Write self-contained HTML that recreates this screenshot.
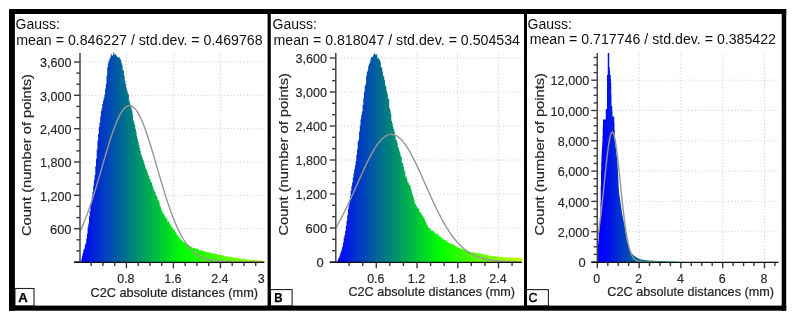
<!DOCTYPE html>
<html><head><meta charset="utf-8"><title>C2C absolute distances histograms</title>
<style>
html,body{margin:0;padding:0;background:#fff;}
body{width:795px;height:320px;overflow:hidden;}
svg{display:block;}
text{font-family:"Liberation Sans",Arial,sans-serif;fill:#262626;}
.yl{font-size:13.5px;stroke:#262626;stroke-width:0.15px;}
.xl{font-size:12.2px;stroke:#262626;stroke-width:0.15px;}
.ti{font-size:12.7px;stroke:#262626;stroke-width:0.22px;}
.ty{font-size:13px;stroke:#262626;stroke-width:0.2px;}
.hd{font-size:14px;fill:#111;}
.lt{font-size:12.6px;font-weight:bold;fill:#000;stroke:#000;stroke-width:0.25px;}
.lc{font-size:13.4px;font-weight:normal;stroke-width:0.45px;}
</style></head><body>
<svg width="795" height="320" viewBox="0 0 795 320">
<rect x="0" y="0" width="795" height="320" fill="#fff"/>

<defs><linearGradient id="g1" gradientUnits="userSpaceOnUse" x1="80.0" y1="0" x2="300.0" y2="0">
<stop offset="0.0000" stop-color="#0000ff"/>
<stop offset="0.2318" stop-color="#007f7f"/>
<stop offset="0.4636" stop-color="#00ff00"/>
<stop offset="1.0000" stop-color="#f0ff00"/>
</linearGradient></defs>
<g stroke="#c8c8c8" stroke-width="1" stroke-dasharray="1 2.3" fill="none">
<line x1="82.0" y1="62.0" x2="264.3" y2="62.0"/>
<line x1="82.0" y1="95.3" x2="264.3" y2="95.3"/>
<line x1="82.0" y1="128.7" x2="264.3" y2="128.7"/>
<line x1="82.0" y1="162.0" x2="264.3" y2="162.0"/>
<line x1="82.0" y1="195.3" x2="264.3" y2="195.3"/>
<line x1="82.0" y1="228.7" x2="264.3" y2="228.7"/>
<line x1="126.4" y1="54.0" x2="126.4" y2="261.0"/>
<line x1="173.4" y1="54.0" x2="173.4" y2="261.0"/>
<line x1="220.4" y1="54.0" x2="220.4" y2="261.0"/>
</g>
<path d="M80.6 262.0V262.0h0.7V258.7h0.7V255.6h0.7V252.8h0.7V249.7h0.7V248.6h0.7V245.1h0.7V243.3h0.7V238.7h0.7V233.7h0.7V227.3h0.7V223.4h0.7V216.6h0.7V211.0h0.7V205.1h0.7V202.0h0.7V196.6h0.7V191.8h0.7V185.8h0.7V179.7h0.7V174.9h0.7V166.3h0.7V158.8h0.7V149.5h0.7V140.6h0.7V134.1h0.7V127.1h0.7V122.4h0.7V116.6h0.7V111.1h0.7V108.2h0.7V104.0h0.7V100.7h0.7V98.1h0.7V94.6h0.7V88.8h0.7V83.7h0.7V75.4h0.7V67.3h0.7V63.2h0.7V60.9h0.7V59.1h0.7V57.4h0.7V53.8h0.7V55.3h0.7V55.7h0.7V54.5h0.7V52.0h0.7V54.5h0.7V54.1h0.7V54.7h0.7V55.9h0.7V57.3h0.7V56.9h0.7V57.4h0.7V57.5h0.7V58.6h0.7V60.1h0.7V62.8h0.7V64.7h0.7V69.8h0.7V71.0h0.7V75.8h0.7V80.8h0.7V83.9h0.7V88.3h0.7V90.4h0.7V93.0h0.7V94.5h0.7V100.5h0.7V103.1h0.7V105.0h0.7V107.6h0.7V110.4h0.7V114.6h0.7V120.6h0.7V122.6h0.7V125.0h0.7V128.9h0.7V131.7h0.7V136.0h0.7V139.3h0.7V142.1h0.7V145.0h0.7V148.2h0.7V151.1h0.7V154.4h0.7V156.0h0.7V158.6h0.7V160.0h0.7V161.9h0.7V164.7h0.7V167.0h0.7V169.1h0.7V170.1h0.7V172.2h0.7V174.4h0.7V176.0h0.7V178.4h0.7V179.2h0.7V182.0h0.7V182.6h0.7V185.1h0.7V186.9h0.7V189.9h0.7V190.7h0.7V192.0h0.7V194.7h0.7V195.8h0.7V197.2h0.7V199.9h0.7V200.6h0.7V202.5h0.7V205.9h0.7V207.3h0.7V210.3h0.7V211.1h0.7V213.5h0.7V213.2h0.7V214.8h0.7V216.2h0.7V217.8h0.7V217.7h0.7V218.4h0.7V221.7h0.7V221.1h0.7V221.9h0.7V223.7h0.7V225.5h0.7V225.5h0.7V227.0h0.7V228.2h0.7V229.5h0.7V229.7h0.7V230.6h0.7V232.3h0.7V232.8h0.7V234.6h0.7V234.8h0.7V236.2h0.7V237.3h0.7V238.2h0.7V238.6h0.7V239.4h0.7V240.2h0.7V240.9h0.7V241.6h0.7V241.9h0.7V242.6h0.7V243.0h0.7V243.8h0.7V245.1h0.7V244.3h0.7V244.3h0.7V245.3h0.7V245.9h0.7V246.2h0.7V246.6h0.7V246.9h0.7V247.6h0.7V247.7h0.7V248.1h0.7V248.0h0.7V248.5h0.7V248.5h0.7V249.0h0.7V248.8h0.7V249.3h0.7V249.0h0.7V250.4h0.7V250.3h0.7V250.0h0.7V249.8h0.7V250.8h0.7V250.9h0.7V251.2h0.7V250.9h0.7V251.5h0.7V251.5h0.7V251.9h0.7V252.3h0.7V252.1h0.7V252.2h0.7V252.2h0.7V252.7h0.7V253.0h0.7V252.8h0.7V253.1h0.7V253.2h0.7V253.5h0.7V253.3h0.7V253.7h0.7V253.5h0.7V253.8h0.7V254.1h0.7V254.8h0.7V254.4h0.7V254.6h0.7V254.7h0.7V254.7h0.7V255.2h0.7V255.1h0.7V255.5h0.7V255.1h0.7V256.0h0.7V256.2h0.7V256.3h0.7V256.3h0.7V256.4h0.7V255.9h0.7V256.5h0.7V256.9h0.7V256.5h0.7V257.0h0.7V257.2h0.7V256.9h0.7V257.1h0.7V257.4h0.7V257.2h0.7V257.5h0.7V257.4h0.7V257.7h0.7V257.6h0.7V258.0h0.7V258.3h0.7V257.8h0.7V258.4h0.7V258.5h0.7V258.6h0.7V258.7h0.7V258.7h0.7V258.8h0.7V258.8h0.7V258.7h0.7V259.1h0.7V259.3h0.7V259.4h0.7V259.4h0.7V259.6h0.7V259.4h0.7V259.6h0.7V259.7h0.7V259.7h0.7V259.9h0.7V259.9h0.7V259.8h0.7V259.9h0.7V260.1h0.7V259.9h0.7V260.3h0.7V260.2h0.7V260.3h0.7V260.6h0.7V260.2h0.7V260.4h0.7V260.6h0.7V260.3h0.7V260.5h0.7V260.6h0.7V260.7h0.7V260.7h0.7V260.9h0.7V260.7h0.7V262.0Z" fill="url(#g1)"/>
<path d="M80.0 231.1L81.0 229.1L82.0 226.9L83.0 224.6L84.0 222.3L85.0 219.9L86.0 217.3L87.0 214.7L88.0 212.0L89.0 209.2L90.0 206.3L91.0 203.4L92.0 200.4L93.0 197.3L94.0 194.1L95.0 190.9L96.0 187.6L97.0 184.3L98.0 180.9L99.0 177.5L100.0 174.1L101.0 170.7L102.0 167.2L103.0 163.8L104.0 160.3L105.0 156.9L106.0 153.5L107.0 150.2L108.0 146.9L109.0 143.6L110.0 140.4L111.0 137.3L112.0 134.3L113.0 131.4L114.0 128.6L115.0 125.9L116.0 123.4L117.0 121.0L118.0 118.7L119.0 116.6L120.0 114.7L121.0 112.9L122.0 111.3L123.0 109.9L124.0 108.7L125.0 107.7L126.0 106.9L127.0 106.3L128.0 105.8L129.0 105.6L130.0 105.6L131.0 105.8L132.0 106.3L133.0 106.9L134.0 107.7L135.0 108.7L136.0 109.9L137.0 111.3L138.0 112.9L139.0 114.7L140.0 116.6L141.0 118.7L142.0 121.0L143.0 123.4L144.0 125.9L145.0 128.6L146.0 131.4L147.0 134.3L148.0 137.3L149.0 140.4L150.0 143.6L151.0 146.8L152.0 150.1L153.0 153.5L154.0 156.9L155.0 160.3L156.0 163.7L157.0 167.2L158.0 170.6L159.0 174.1L160.0 177.5L161.0 180.9L162.0 184.3L163.0 187.6L164.0 190.9L165.0 194.1L166.0 197.2L167.0 200.3L168.0 203.4L169.0 206.3L170.0 209.2L171.0 212.0L172.0 214.7L173.0 217.3L174.0 219.8L175.0 222.3L176.0 224.6L177.0 226.9L178.0 229.0L179.0 231.1L180.0 233.1L181.0 235.0L182.0 236.8L183.0 238.5L184.0 240.1L185.0 241.6L186.0 243.1L187.0 244.5L188.0 245.8L189.0 247.0L190.0 248.1L191.0 249.2L192.0 250.2L193.0 251.2L194.0 252.0L195.0 252.9L196.0 253.6L197.0 254.3L198.0 255.0L199.0 255.6L200.0 256.2L201.0 256.7L202.0 257.2L203.0 257.6L204.0 258.0L205.0 258.4L206.0 258.8L207.0 259.1L208.0 259.4L209.0 259.6L210.0 259.9L211.0 260.1L212.0 260.3L213.0 260.5L214.0 260.6L215.0 260.8L216.0 260.9L217.0 261.0L218.0 261.1L219.0 261.2L220.0 261.3L221.0 261.4L222.0 261.5L223.0 261.5L224.0 261.6L225.0 261.6L226.0 261.7L227.0 261.7L228.0 261.7L229.0 261.8L230.0 261.8L231.0 261.8L232.0 261.9L233.0 261.9L234.0 261.9L235.0 261.9L236.0 261.9L237.0 261.9L238.0 261.9L239.0 261.9L240.0 262.0L241.0 262.0L242.0 262.0L243.0 262.0L244.0 262.0L245.0 262.0L246.0 262.0L247.0 262.0L248.0 262.0L249.0 262.0L250.0 262.0L251.0 262.0L252.0 262.0L253.0 262.0L254.0 262.0L255.0 262.0L256.0 262.0L257.0 262.0L258.0 262.0L259.0 262.0L260.0 262.0L261.0 262.0L262.0 262.0L263.0 262.0L264.0 262.0" fill="none" stroke="#969696" stroke-width="1.4"/>
<g stroke="#3a3a3a" stroke-width="1.4" fill="none">
<line x1="74.0" y1="62.0" x2="80.0" y2="62.0"/>
<line x1="74.0" y1="95.3" x2="80.0" y2="95.3"/>
<line x1="74.0" y1="128.7" x2="80.0" y2="128.7"/>
<line x1="74.0" y1="162.0" x2="80.0" y2="162.0"/>
<line x1="74.0" y1="195.3" x2="80.0" y2="195.3"/>
<line x1="74.0" y1="228.7" x2="80.0" y2="228.7"/>
<line x1="74.0" y1="262.0" x2="80.0" y2="262.0"/>
<line x1="76.4" y1="250.9" x2="80.0" y2="250.9"/>
<line x1="76.4" y1="239.8" x2="80.0" y2="239.8"/>
<line x1="76.4" y1="217.6" x2="80.0" y2="217.6"/>
<line x1="76.4" y1="206.4" x2="80.0" y2="206.4"/>
<line x1="76.4" y1="184.2" x2="80.0" y2="184.2"/>
<line x1="76.4" y1="173.1" x2="80.0" y2="173.1"/>
<line x1="76.4" y1="150.9" x2="80.0" y2="150.9"/>
<line x1="76.4" y1="139.8" x2="80.0" y2="139.8"/>
<line x1="76.4" y1="117.6" x2="80.0" y2="117.6"/>
<line x1="76.4" y1="106.4" x2="80.0" y2="106.4"/>
<line x1="76.4" y1="84.2" x2="80.0" y2="84.2"/>
<line x1="76.4" y1="73.1" x2="80.0" y2="73.1"/>
<line x1="126.4" y1="262.0" x2="126.4" y2="268.3"/>
<line x1="173.4" y1="262.0" x2="173.4" y2="268.3"/>
<line x1="220.4" y1="262.0" x2="220.4" y2="268.3"/>
<line x1="91.2" y1="262.0" x2="91.2" y2="266.1"/>
<line x1="102.9" y1="262.0" x2="102.9" y2="266.1"/>
<line x1="114.7" y1="262.0" x2="114.7" y2="266.1"/>
<line x1="138.2" y1="262.0" x2="138.2" y2="266.1"/>
<line x1="149.9" y1="262.0" x2="149.9" y2="266.1"/>
<line x1="161.7" y1="262.0" x2="161.7" y2="266.1"/>
<line x1="185.2" y1="262.0" x2="185.2" y2="266.1"/>
<line x1="196.9" y1="262.0" x2="196.9" y2="266.1"/>
<line x1="208.7" y1="262.0" x2="208.7" y2="266.1"/>
<line x1="232.2" y1="262.0" x2="232.2" y2="266.1"/>
<line x1="243.9" y1="262.0" x2="243.9" y2="266.1"/>
<line x1="255.7" y1="262.0" x2="255.7" y2="266.1"/>
</g>
<line x1="80.0" y1="53.0" x2="80.0" y2="262.6" stroke="#444" stroke-width="1.5"/>
<line x1="74.0" y1="262.4" x2="264.3" y2="262.4" stroke="#111" stroke-width="1.3"/>
<g class="tk">
<text class="yl" x="71.5" y="67.2" text-anchor="end" textLength="31.5" lengthAdjust="spacingAndGlyphs">3,600</text>
<text class="yl" x="71.5" y="100.5" text-anchor="end" textLength="31.5" lengthAdjust="spacingAndGlyphs">3,000</text>
<text class="yl" x="71.5" y="133.8" text-anchor="end" textLength="31.5" lengthAdjust="spacingAndGlyphs">2,400</text>
<text class="yl" x="71.5" y="167.2" text-anchor="end" textLength="31.5" lengthAdjust="spacingAndGlyphs">1,800</text>
<text class="yl" x="71.5" y="200.5" text-anchor="end" textLength="31.5" lengthAdjust="spacingAndGlyphs">1,200</text>
<text class="yl" x="71.5" y="233.8" text-anchor="end" textLength="21.5" lengthAdjust="spacingAndGlyphs">600</text>
<text class="xl" x="125.9" y="282.9" text-anchor="middle" textLength="17.3" lengthAdjust="spacingAndGlyphs">0.8</text>
<text class="xl" x="172.9" y="282.9" text-anchor="middle" textLength="17.3" lengthAdjust="spacingAndGlyphs">1.6</text>
<text class="xl" x="219.9" y="282.9" text-anchor="middle" textLength="17.3" lengthAdjust="spacingAndGlyphs">2.4</text>
<text class="xl" x="261.2" y="282.9" text-anchor="middle" textLength="6.9" lengthAdjust="spacingAndGlyphs">3</text>
</g>
<text class="ti" x="90.6" y="296.5" textLength="167.4" lengthAdjust="spacingAndGlyphs">C2C absolute distances (mm)</text>
<text class="ty" transform="translate(31.2 236.0) rotate(-90)" textLength="162.0" lengthAdjust="spacingAndGlyphs">Count (number of points)</text>
<text class="hd" x="15.5" y="28.7">Gauss:</text>
<text class="hd" x="16.3" y="45.0" textLength="246.3" lengthAdjust="spacingAndGlyphs">mean = 0.846227 / std.dev. = 0.469768</text>
<rect x="15.0" y="288.5" width="19.0" height="17.5" fill="#fff" stroke="#222" stroke-width="1.1"/>
<text class="lt" x="23.1" y="301.9" text-anchor="middle" textLength="9.6" lengthAdjust="spacingAndGlyphs">A</text>
<defs><linearGradient id="g2" gradientUnits="userSpaceOnUse" x1="336.0" y1="0" x2="545.0" y2="0">
<stop offset="0.0000" stop-color="#0000ff"/>
<stop offset="0.2488" stop-color="#007f7f"/>
<stop offset="0.4976" stop-color="#00ff00"/>
<stop offset="1.0000" stop-color="#ffff00"/>
</linearGradient></defs>
<g stroke="#c8c8c8" stroke-width="1" stroke-dasharray="1 2.3" fill="none">
<line x1="337.8" y1="58.0" x2="521.8" y2="58.0"/>
<line x1="337.8" y1="92.0" x2="521.8" y2="92.0"/>
<line x1="337.8" y1="126.0" x2="521.8" y2="126.0"/>
<line x1="337.8" y1="160.0" x2="521.8" y2="160.0"/>
<line x1="337.8" y1="194.0" x2="521.8" y2="194.0"/>
<line x1="337.8" y1="228.0" x2="521.8" y2="228.0"/>
<line x1="337.8" y1="262.0" x2="521.8" y2="262.0"/>
<line x1="376.3" y1="54.0" x2="376.3" y2="261.0"/>
<line x1="417.0" y1="54.0" x2="417.0" y2="261.0"/>
<line x1="457.8" y1="54.0" x2="457.8" y2="261.0"/>
<line x1="498.5" y1="54.0" x2="498.5" y2="261.0"/>
</g>
<path d="M336.0 262.0V262.0h0.7V261.3h0.7V260.5h0.7V258.6h0.7V257.5h0.7V255.4h0.7V253.0h0.7V251.2h0.7V248.7h0.7V246.2h0.7V242.5h0.7V238.1h0.7V234.9h0.7V231.1h0.7V225.7h0.7V221.1h0.7V215.3h0.7V209.3h0.7V205.5h0.7V200.1h0.7V195.9h0.7V190.8h0.7V186.0h0.7V182.6h0.7V177.7h0.7V173.3h0.7V169.3h0.7V165.5h0.7V161.2h0.7V155.0h0.7V149.6h0.7V141.4h0.7V139.9h0.7V131.6h0.7V125.6h0.7V119.3h0.7V115.1h0.7V111.4h0.7V105.1h0.7V98.4h0.7V92.1h0.7V86.0h0.7V84.3h0.7V75.8h0.7V72.1h0.7V70.5h0.7V66.1h0.7V64.0h0.7V62.6h0.7V59.6h0.7V57.1h0.7V57.6h0.7V56.5h0.7V55.3h0.7V54.0h0.7V52.7h0.7V55.1h0.7V54.1h0.7V55.2h0.7V58.6h0.7V57.9h0.7V58.7h0.7V60.1h0.7V61.8h0.7V67.1h0.7V67.4h0.7V71.4h0.7V75.6h0.7V76.7h0.7V80.0h0.7V85.0h0.7V86.7h0.7V91.3h0.7V93.9h0.7V98.2h0.7V98.9h0.7V108.1h0.7V110.0h0.7V113.7h0.7V120.9h0.7V123.1h0.7V126.6h0.7V128.9h0.7V131.6h0.7V136.0h0.7V139.7h0.7V139.7h0.7V142.4h0.7V146.4h0.7V148.1h0.7V150.5h0.7V152.8h0.7V155.7h0.7V157.2h0.7V162.7h0.7V163.1h0.7V166.5h0.7V169.8h0.7V171.5h0.7V176.9h0.7V176.3h0.7V179.0h0.7V182.0h0.7V182.6h0.7V184.9h0.7V184.5h0.7V186.8h0.7V189.7h0.7V192.4h0.7V194.4h0.7V196.6h0.7V199.5h0.7V202.2h0.7V203.9h0.7V205.2h0.7V206.6h0.7V207.9h0.7V209.1h0.7V208.1h0.7V211.8h0.7V212.7h0.7V213.0h0.7V214.7h0.7V215.4h0.7V216.4h0.7V217.4h0.7V218.9h0.7V221.2h0.7V221.4h0.7V224.4h0.7V225.1h0.7V226.7h0.7V228.1h0.7V228.1h0.7V229.2h0.7V229.2h0.7V230.9h0.7V230.3h0.7V230.9h0.7V231.5h0.7V232.7h0.7V232.7h0.7V233.8h0.7V234.7h0.7V232.9h0.7V234.5h0.7V234.8h0.7V236.3h0.7V236.4h0.7V236.9h0.7V237.5h0.7V238.2h0.7V238.8h0.7V240.1h0.7V239.4h0.7V240.0h0.7V240.2h0.7V241.2h0.7V240.8h0.7V242.1h0.7V242.8h0.7V242.4h0.7V243.3h0.7V244.0h0.7V243.9h0.7V244.0h0.7V244.6h0.7V244.9h0.7V244.0h0.7V245.5h0.7V245.6h0.7V247.1h0.7V246.6h0.7V246.8h0.7V247.5h0.7V248.0h0.7V247.8h0.7V248.4h0.7V248.7h0.7V248.5h0.7V248.7h0.7V249.3h0.7V249.8h0.7V249.8h0.7V249.9h0.7V250.3h0.7V251.1h0.7V251.0h0.7V251.0h0.7V251.2h0.7V251.3h0.7V251.5h0.7V252.2h0.7V252.2h0.7V252.5h0.7V251.8h0.7V252.4h0.7V252.4h0.7V252.4h0.7V252.9h0.7V253.2h0.7V253.1h0.7V253.2h0.7V252.9h0.7V253.2h0.7V253.8h0.7V253.5h0.7V253.6h0.7V254.2h0.7V254.1h0.7V254.7h0.7V254.3h0.7V254.6h0.7V255.0h0.7V255.1h0.7V255.0h0.7V255.3h0.7V255.3h0.7V255.4h0.7V255.8h0.7V255.8h0.7V255.3h0.7V255.9h0.7V256.2h0.7V256.1h0.7V256.4h0.7V256.0h0.7V256.2h0.7V256.2h0.7V256.3h0.7V256.4h0.7V256.4h0.7V256.6h0.7V256.9h0.7V257.0h0.7V256.9h0.7V257.4h0.7V256.6h0.7V257.3h0.7V257.1h0.7V257.4h0.7V257.5h0.7V257.2h0.7V257.3h0.7V257.3h0.7V257.3h0.7V257.5h0.7V257.4h0.7V257.4h0.7V257.6h0.7V257.6h0.7V257.5h0.7V257.6h0.7V257.6h0.7V258.1h0.7V257.7h0.7V257.7h0.7V257.8h0.7V257.8h0.7V257.5h0.7V257.9h0.7V257.8h0.7V258.1h0.7V258.1h0.7V258.1h0.7V258.2h0.7V262.0Z" fill="url(#g2)"/>
<path d="M336.0 227.4L337.0 225.7L338.0 224.0L339.0 222.3L340.0 220.5L341.0 218.6L342.0 216.7L343.0 214.8L344.0 212.8L345.0 210.8L346.0 208.8L347.0 206.7L348.0 204.6L349.0 202.5L350.0 200.3L351.0 198.1L352.0 195.9L353.0 193.7L354.0 191.5L355.0 189.2L356.0 187.0L357.0 184.7L358.0 182.4L359.0 180.2L360.0 177.9L361.0 175.7L362.0 173.5L363.0 171.2L364.0 169.1L365.0 166.9L366.0 164.8L367.0 162.7L368.0 160.7L369.0 158.7L370.0 156.8L371.0 154.9L372.0 153.1L373.0 151.3L374.0 149.6L375.0 148.0L376.0 146.4L377.0 145.0L378.0 143.6L379.0 142.3L380.0 141.1L381.0 139.9L382.0 138.9L383.0 138.0L384.0 137.2L385.0 136.5L386.0 135.8L387.0 135.3L388.0 134.9L389.0 134.6L390.0 134.4L391.0 134.3L392.0 134.4L393.0 134.5L394.0 134.7L395.0 135.1L396.0 135.5L397.0 136.1L398.0 136.8L399.0 137.6L400.0 138.4L401.0 139.4L402.0 140.5L403.0 141.6L404.0 142.9L405.0 144.2L406.0 145.6L407.0 147.1L408.0 148.7L409.0 150.4L410.0 152.1L411.0 153.9L412.0 155.8L413.0 157.7L414.0 159.6L415.0 161.6L416.0 163.7L417.0 165.8L418.0 167.9L419.0 170.1L420.0 172.3L421.0 174.5L422.0 176.7L423.0 179.0L424.0 181.2L425.0 183.5L426.0 185.8L427.0 188.0L428.0 190.3L429.0 192.5L430.0 194.8L431.0 197.0L432.0 199.2L433.0 201.3L434.0 203.5L435.0 205.6L436.0 207.7L437.0 209.8L438.0 211.8L439.0 213.8L440.0 215.7L441.0 217.6L442.0 219.5L443.0 221.3L444.0 223.1L445.0 224.8L446.0 226.5L447.0 228.1L448.0 229.7L449.0 231.3L450.0 232.8L451.0 234.2L452.0 235.6L453.0 237.0L454.0 238.2L455.0 239.5L456.0 240.7L457.0 241.9L458.0 243.0L459.0 244.0L460.0 245.0L461.0 246.0L462.0 246.9L463.0 247.8L464.0 248.7L465.0 249.5L466.0 250.3L467.0 251.0L468.0 251.7L469.0 252.3L470.0 253.0L471.0 253.6L472.0 254.1L473.0 254.6L474.0 255.1L475.0 255.6L476.0 256.1L477.0 256.5L478.0 256.9L479.0 257.2L480.0 257.6L481.0 257.9L482.0 258.2L483.0 258.5L484.0 258.8L485.0 259.0L486.0 259.2L487.0 259.5L488.0 259.7L489.0 259.8L490.0 260.0L491.0 260.2L492.0 260.3L493.0 260.5L494.0 260.6L495.0 260.7L496.0 260.8L497.0 260.9L498.0 261.0L499.0 261.1L500.0 261.2L501.0 261.3L502.0 261.3L503.0 261.4L504.0 261.4L505.0 261.5L506.0 261.5L507.0 261.6L508.0 261.6L509.0 261.7L510.0 261.7L511.0 261.7L512.0 261.7L513.0 261.8L514.0 261.8L515.0 261.8L516.0 261.8L517.0 261.9L518.0 261.9L519.0 261.9L520.0 261.9L521.0 261.9" fill="none" stroke="#969696" stroke-width="1.4"/>
<g stroke="#3a3a3a" stroke-width="1.4" fill="none">
<line x1="329.8" y1="58.0" x2="335.8" y2="58.0"/>
<line x1="329.8" y1="92.0" x2="335.8" y2="92.0"/>
<line x1="329.8" y1="126.0" x2="335.8" y2="126.0"/>
<line x1="329.8" y1="160.0" x2="335.8" y2="160.0"/>
<line x1="329.8" y1="194.0" x2="335.8" y2="194.0"/>
<line x1="329.8" y1="228.0" x2="335.8" y2="228.0"/>
<line x1="329.8" y1="262.0" x2="335.8" y2="262.0"/>
<line x1="332.2" y1="250.7" x2="335.8" y2="250.7"/>
<line x1="332.2" y1="239.3" x2="335.8" y2="239.3"/>
<line x1="332.2" y1="216.7" x2="335.8" y2="216.7"/>
<line x1="332.2" y1="205.3" x2="335.8" y2="205.3"/>
<line x1="332.2" y1="182.7" x2="335.8" y2="182.7"/>
<line x1="332.2" y1="171.3" x2="335.8" y2="171.3"/>
<line x1="332.2" y1="148.7" x2="335.8" y2="148.7"/>
<line x1="332.2" y1="137.3" x2="335.8" y2="137.3"/>
<line x1="332.2" y1="114.7" x2="335.8" y2="114.7"/>
<line x1="332.2" y1="103.3" x2="335.8" y2="103.3"/>
<line x1="332.2" y1="80.7" x2="335.8" y2="80.7"/>
<line x1="332.2" y1="69.3" x2="335.8" y2="69.3"/>
<line x1="376.3" y1="262.0" x2="376.3" y2="268.3"/>
<line x1="417.0" y1="262.0" x2="417.0" y2="268.3"/>
<line x1="457.8" y1="262.0" x2="457.8" y2="268.3"/>
<line x1="498.5" y1="262.0" x2="498.5" y2="268.3"/>
<line x1="349.1" y1="262.0" x2="349.1" y2="266.1"/>
<line x1="362.7" y1="262.0" x2="362.7" y2="266.1"/>
<line x1="389.8" y1="262.0" x2="389.8" y2="266.1"/>
<line x1="403.4" y1="262.0" x2="403.4" y2="266.1"/>
<line x1="430.6" y1="262.0" x2="430.6" y2="266.1"/>
<line x1="444.2" y1="262.0" x2="444.2" y2="266.1"/>
<line x1="471.3" y1="262.0" x2="471.3" y2="266.1"/>
<line x1="484.9" y1="262.0" x2="484.9" y2="266.1"/>
<line x1="512.1" y1="262.0" x2="512.1" y2="266.1"/>
</g>
<line x1="335.8" y1="53.0" x2="335.8" y2="262.6" stroke="#444" stroke-width="1.5"/>
<line x1="329.8" y1="262.4" x2="521.8" y2="262.4" stroke="#111" stroke-width="1.3"/>
<g class="tk">
<text class="yl" x="327.1" y="63.1" text-anchor="end" textLength="31.5" lengthAdjust="spacingAndGlyphs">3,600</text>
<text class="yl" x="327.1" y="97.2" text-anchor="end" textLength="31.5" lengthAdjust="spacingAndGlyphs">3,000</text>
<text class="yl" x="327.1" y="131.2" text-anchor="end" textLength="31.5" lengthAdjust="spacingAndGlyphs">2,400</text>
<text class="yl" x="327.1" y="165.2" text-anchor="end" textLength="31.5" lengthAdjust="spacingAndGlyphs">1,800</text>
<text class="yl" x="327.1" y="199.2" text-anchor="end" textLength="31.5" lengthAdjust="spacingAndGlyphs">1,200</text>
<text class="yl" x="327.1" y="233.2" text-anchor="end" textLength="21.5" lengthAdjust="spacingAndGlyphs">600</text>
<text class="yl" x="323.6" y="267.1" text-anchor="end" textLength="7.2" lengthAdjust="spacingAndGlyphs">0</text>
<text class="xl" x="375.8" y="282.9" text-anchor="middle" textLength="17.3" lengthAdjust="spacingAndGlyphs">0.6</text>
<text class="xl" x="416.5" y="282.9" text-anchor="middle" textLength="17.3" lengthAdjust="spacingAndGlyphs">1.2</text>
<text class="xl" x="457.3" y="282.9" text-anchor="middle" textLength="17.3" lengthAdjust="spacingAndGlyphs">1.8</text>
<text class="xl" x="498.0" y="282.9" text-anchor="middle" textLength="17.3" lengthAdjust="spacingAndGlyphs">2.4</text>
</g>
<text class="ti" x="348.4" y="296.4" textLength="166.6" lengthAdjust="spacingAndGlyphs">C2C absolute distances (mm)</text>
<text class="ty" transform="translate(288.2 235.6) rotate(-90)" textLength="162.5" lengthAdjust="spacingAndGlyphs">Count (number of points)</text>
<text class="hd" x="272.6" y="28.5">Gauss:</text>
<text class="hd" x="273.5" y="45.0" textLength="246.5" lengthAdjust="spacingAndGlyphs">mean = 0.818047 / std.dev. = 0.504534</text>
<rect x="270.5" y="289.6" width="21.6" height="16.4" fill="#fff" stroke="#222" stroke-width="1.1"/>
<text class="lt" x="278.5" y="301.9" text-anchor="middle" textLength="8.3" lengthAdjust="spacingAndGlyphs">B</text>
<defs><linearGradient id="g3" gradientUnits="userSpaceOnUse" x1="597.0" y1="0" x2="700.0" y2="0">
<stop offset="0.0000" stop-color="#0000ff"/>
<stop offset="0.0680" stop-color="#0004fb"/>
<stop offset="0.9029" stop-color="#00ff00"/>
<stop offset="1.0000" stop-color="#00ff00"/>
</linearGradient></defs>
<g stroke="#c8c8c8" stroke-width="1" stroke-dasharray="1 2.3" fill="none">
<line x1="599.3" y1="80.2" x2="778.4" y2="80.2"/>
<line x1="599.3" y1="110.5" x2="778.4" y2="110.5"/>
<line x1="599.3" y1="140.8" x2="778.4" y2="140.8"/>
<line x1="599.3" y1="171.1" x2="778.4" y2="171.1"/>
<line x1="599.3" y1="201.4" x2="778.4" y2="201.4"/>
<line x1="599.3" y1="231.7" x2="778.4" y2="231.7"/>
<line x1="599.3" y1="262.0" x2="778.4" y2="262.0"/>
<line x1="639.1" y1="54.0" x2="639.1" y2="261.0"/>
<line x1="680.9" y1="54.0" x2="680.9" y2="261.0"/>
<line x1="722.7" y1="54.0" x2="722.7" y2="261.0"/>
<line x1="764.5" y1="54.0" x2="764.5" y2="261.0"/>
</g>
<path d="M597.5 262.0V249.0h0.25V246.7h0.25V244.2h0.25V241.5h0.25V238.7h0.25V235.7h0.25V232.6h0.25V229.4h0.25V226.4h0.25V223.3h0.25V219.3h0.25V213.5h0.25V202.0h0.25V186.0h0.25V171.0h0.25V161.8h0.25V155.0h0.25V150.3h0.25V146.5h0.25V142.1h0.25V135.7h0.25V127.1h0.25V119.6h0.25V119.6h0.25V119.6h0.25V119.6h0.25V119.6h0.25V119.6h0.25V119.6h0.25V119.6h0.25V119.6h0.25V119.6h0.25V119.6h0.25V109.0h0.25V109.0h0.25V109.0h0.25V109.0h0.25V109.0h0.25V75.0h0.25V75.0h0.25V75.0h0.25V53.0h0.25V53.0h0.25V53.0h0.25V53.0h0.25V53.0h0.25V53.0h0.25V67.0h0.25V67.0h0.25V71.0h0.25V75.0h0.25V75.0h0.25V75.0h0.25V79.0h0.25V83.0h0.25V94.5h0.25V105.9h0.25V105.9h0.25V105.9h0.25V111.2h0.25V116.5h0.25V116.5h0.25V116.5h0.25V116.5h0.25V116.5h0.25V116.5h0.25V116.5h0.25V122.8h0.25V130.3h0.25V135.5h0.25V139.6h0.25V142.9h0.25V145.7h0.25V148.1h0.25V150.5h0.25V152.9h0.25V155.1h0.25V157.4h0.25V160.0h0.25V163.0h0.25V166.4h0.25V170.2h0.25V175.0h0.25V181.1h0.25V186.8h0.25V190.6h0.25V193.0h0.25V195.0h0.25V196.7h0.25V198.2h0.25V199.7h0.25V201.3h0.25V203.1h0.25V205.0h0.25V206.8h0.25V208.5h0.25V210.3h0.25V211.9h0.25V213.5h0.25V214.9h0.25V216.3h0.25V217.6h0.25V218.9h0.25V220.1h0.25V221.3h0.25V222.6h0.25V223.9h0.25V225.3h0.25V226.8h0.25V228.3h0.25V229.9h0.25V231.5h0.25V233.1h0.25V234.6h0.25V236.0h0.25V237.2h0.25V238.4h0.25V239.6h0.25V240.8h0.25V241.9h0.25V243.0h0.25V244.0h0.25V245.0h0.25V245.9h0.25V246.8h0.25V247.5h0.25V248.2h0.25V248.8h0.25V249.4h0.25V249.9h0.25V250.4h0.25V250.9h0.25V251.3h0.25V251.8h0.25V252.2h0.25V252.6h0.25V253.0h0.25V253.4h0.25V253.7h0.25V254.0h0.25V254.3h0.25V254.6h0.25V254.8h0.25V255.1h0.25V255.3h0.25V255.5h0.25V255.7h0.25V255.9h0.25V256.1h0.25V256.3h0.25V256.5h0.25V256.6h0.25V256.8h0.25V257.0h0.25V257.2h0.25V257.3h0.25V257.5h0.25V257.6h0.25V257.8h0.25V257.9h0.25V258.1h0.25V258.2h0.25V258.3h0.25V258.5h0.25V258.6h0.25V258.7h0.25V258.8h0.25V258.9h0.25V259.0h0.25V259.1h0.25V259.2h0.25V259.3h0.25V259.3h0.25V259.4h0.25V259.5h0.25V259.5h0.25V259.6h0.25V259.6h0.25V259.6h0.25V259.7h0.25V259.7h0.25V259.8h0.25V259.8h0.25V259.8h0.25V259.9h0.25V259.9h0.25V259.9h0.25V260.0h0.25V260.0h0.25V260.0h0.25V260.1h0.25V260.1h0.25V260.1h0.25V260.1h0.25V260.2h0.25V260.2h0.25V260.2h0.25V260.2h0.25V260.3h0.25V260.3h0.25V260.3h0.25V260.3h0.25V260.4h0.25V260.4h0.25V260.4h0.25V260.4h0.25V260.4h0.25V260.5h0.25V260.5h0.25V260.5h0.25V260.5h0.25V260.5h0.25V260.5h0.25V260.6h0.25V260.6h0.25V260.6h0.25V260.6h0.25V260.6h0.25V260.6h0.25V260.6h0.25V260.7h0.25V260.7h0.25V260.7h0.25V260.7h0.25V260.7h0.25V260.7h0.25V260.7h0.25V260.8h0.25V260.8h0.25V260.8h0.25V260.8h0.25V260.8h0.25V260.8h0.25V260.8h0.25V260.9h0.25V260.9h0.25V260.9h0.25V260.9h0.25V260.9h0.25V260.9h0.25V260.9h0.25V260.9h0.25V261.0h0.25V261.0h0.25V261.0h0.25V261.0h0.25V261.0h0.25V261.0h0.25V261.0h0.25V261.1h0.25V261.1h0.25V261.1h0.25V261.1h0.25V261.1h0.25V261.1h0.25V261.1h0.25V261.1h0.25V261.2h0.25V261.2h0.25V261.2h0.25V261.2h0.25V261.2h0.25V261.2h0.25V261.2h0.25V261.2h0.25V261.3h0.25V261.3h0.25V261.3h0.25V261.3h0.25V261.3h0.25V261.3h0.25V261.3h0.25V261.3h0.25V261.3h0.25V261.4h0.25V261.4h0.25V261.4h0.25V261.4h0.25V261.4h0.25V261.4h0.25V261.4h0.25V261.4h0.25V261.4h0.25V261.4h0.25V261.5h0.25V261.5h0.25V261.5h0.25V261.5h0.25V261.5h0.25V261.5h0.25V261.5h0.25V261.5h0.25V261.5h0.25V261.5h0.25V261.5h0.25V261.6h0.25V261.6h0.25V261.6h0.25V261.6h0.25V261.6h0.25V261.6h0.25V261.6h0.25V261.6h0.25V261.6h0.25V261.6h0.25V261.6h0.25V261.6h0.25V261.6h0.25V261.6h0.25V261.6h0.25V261.6h0.25V261.7h0.25V261.7h0.25V261.7h0.25V261.7h0.25V261.7h0.25V261.7h0.25V261.7h0.25V261.7h0.25V261.7h0.25V261.7h0.25V261.7h0.25V261.7h0.25V261.7h0.25V261.7h0.25V261.7h0.25V261.7h0.25V261.7h0.25V261.7h0.25V261.7h0.25V261.7h0.25V262.0Z" fill="url(#g3)"/>
<path d="M597.3 239.1L598.3 233.3L599.3 226.7L600.3 219.2L601.3 210.9L602.3 201.9L603.3 192.4L604.3 182.7L605.3 173.0L606.3 163.6L607.3 154.9L608.3 147.2L609.3 140.8L610.3 136.0L611.3 133.1L612.3 132.1L613.3 133.1L614.3 136.0L615.3 140.8L616.3 147.2L617.3 154.9L618.3 163.6L619.3 172.9L620.3 182.7L621.3 192.4L622.3 201.9L623.3 210.9L624.3 219.2L625.3 226.7L626.3 233.3L627.3 239.1L628.3 243.9L629.3 248.0L630.3 251.3L631.3 254.0L632.3 256.0L633.3 257.7L634.3 258.9L635.3 259.8L636.3 260.5L637.3 260.9L638.3 261.3L639.3 261.5L640.3 261.7L641.3 261.8L642.3 261.9L643.3 261.9L644.3 262.0L645.3 262.0L646.3 262.0L647.3 262.0L648.3 262.0L649.3 262.0L650.3 262.0L651.3 262.0L652.3 262.0L653.3 262.0L654.3 262.0L655.3 262.0L656.3 262.0L657.3 262.0L658.3 262.0L659.3 262.0" fill="none" stroke="#969696" stroke-width="1.4"/>
<g stroke="#3a3a3a" stroke-width="1.4" fill="none">
<line x1="591.3" y1="80.2" x2="597.3" y2="80.2"/>
<line x1="591.3" y1="110.5" x2="597.3" y2="110.5"/>
<line x1="591.3" y1="140.8" x2="597.3" y2="140.8"/>
<line x1="591.3" y1="171.1" x2="597.3" y2="171.1"/>
<line x1="591.3" y1="201.4" x2="597.3" y2="201.4"/>
<line x1="591.3" y1="231.7" x2="597.3" y2="231.7"/>
<line x1="591.3" y1="262.0" x2="597.3" y2="262.0"/>
<line x1="593.7" y1="254.4" x2="597.3" y2="254.4"/>
<line x1="593.7" y1="246.8" x2="597.3" y2="246.8"/>
<line x1="593.7" y1="239.3" x2="597.3" y2="239.3"/>
<line x1="593.7" y1="224.1" x2="597.3" y2="224.1"/>
<line x1="593.7" y1="216.6" x2="597.3" y2="216.6"/>
<line x1="593.7" y1="209.0" x2="597.3" y2="209.0"/>
<line x1="593.7" y1="193.8" x2="597.3" y2="193.8"/>
<line x1="593.7" y1="186.2" x2="597.3" y2="186.2"/>
<line x1="593.7" y1="178.7" x2="597.3" y2="178.7"/>
<line x1="593.7" y1="163.5" x2="597.3" y2="163.5"/>
<line x1="593.7" y1="155.9" x2="597.3" y2="155.9"/>
<line x1="593.7" y1="148.4" x2="597.3" y2="148.4"/>
<line x1="593.7" y1="133.2" x2="597.3" y2="133.2"/>
<line x1="593.7" y1="125.7" x2="597.3" y2="125.7"/>
<line x1="593.7" y1="118.1" x2="597.3" y2="118.1"/>
<line x1="593.7" y1="102.9" x2="597.3" y2="102.9"/>
<line x1="593.7" y1="95.3" x2="597.3" y2="95.3"/>
<line x1="593.7" y1="87.8" x2="597.3" y2="87.8"/>
<line x1="593.7" y1="72.6" x2="597.3" y2="72.6"/>
<line x1="593.7" y1="65.0" x2="597.3" y2="65.0"/>
<line x1="593.7" y1="57.5" x2="597.3" y2="57.5"/>
<line x1="597.3" y1="262.0" x2="597.3" y2="268.3"/>
<line x1="639.1" y1="262.0" x2="639.1" y2="268.3"/>
<line x1="680.9" y1="262.0" x2="680.9" y2="268.3"/>
<line x1="722.7" y1="262.0" x2="722.7" y2="268.3"/>
<line x1="764.5" y1="262.0" x2="764.5" y2="268.3"/>
<line x1="607.8" y1="262.0" x2="607.8" y2="266.1"/>
<line x1="618.2" y1="262.0" x2="618.2" y2="266.1"/>
<line x1="628.6" y1="262.0" x2="628.6" y2="266.1"/>
<line x1="649.5" y1="262.0" x2="649.5" y2="266.1"/>
<line x1="660.0" y1="262.0" x2="660.0" y2="266.1"/>
<line x1="670.4" y1="262.0" x2="670.4" y2="266.1"/>
<line x1="691.3" y1="262.0" x2="691.3" y2="266.1"/>
<line x1="701.8" y1="262.0" x2="701.8" y2="266.1"/>
<line x1="712.2" y1="262.0" x2="712.2" y2="266.1"/>
<line x1="733.1" y1="262.0" x2="733.1" y2="266.1"/>
<line x1="743.6" y1="262.0" x2="743.6" y2="266.1"/>
<line x1="754.0" y1="262.0" x2="754.0" y2="266.1"/>
<line x1="774.9" y1="262.0" x2="774.9" y2="266.1"/>
</g>
<line x1="597.3" y1="53.0" x2="597.3" y2="262.6" stroke="#444" stroke-width="1.5"/>
<line x1="591.3" y1="262.4" x2="778.4" y2="262.4" stroke="#111" stroke-width="1.3"/>
<g class="tk">
<text class="yl" x="589.2" y="85.3" text-anchor="end" textLength="38.6" lengthAdjust="spacingAndGlyphs">12,000</text>
<text class="yl" x="589.2" y="115.7" text-anchor="end" textLength="38.6" lengthAdjust="spacingAndGlyphs">10,000</text>
<text class="yl" x="589.2" y="146.0" text-anchor="end" textLength="31.5" lengthAdjust="spacingAndGlyphs">8,000</text>
<text class="yl" x="589.2" y="176.2" text-anchor="end" textLength="31.5" lengthAdjust="spacingAndGlyphs">6,000</text>
<text class="yl" x="589.2" y="206.6" text-anchor="end" textLength="31.5" lengthAdjust="spacingAndGlyphs">4,000</text>
<text class="yl" x="589.2" y="236.8" text-anchor="end" textLength="31.5" lengthAdjust="spacingAndGlyphs">2,000</text>
<text class="yl" x="585.7" y="267.1" text-anchor="end" textLength="7.2" lengthAdjust="spacingAndGlyphs">0</text>
<text class="xl" x="596.8" y="282.9" text-anchor="middle" textLength="6.9" lengthAdjust="spacingAndGlyphs">0</text>
<text class="xl" x="638.6" y="282.9" text-anchor="middle" textLength="6.9" lengthAdjust="spacingAndGlyphs">2</text>
<text class="xl" x="680.4" y="282.9" text-anchor="middle" textLength="6.9" lengthAdjust="spacingAndGlyphs">4</text>
<text class="xl" x="722.2" y="282.9" text-anchor="middle" textLength="6.9" lengthAdjust="spacingAndGlyphs">6</text>
<text class="xl" x="764.0" y="282.9" text-anchor="middle" textLength="6.9" lengthAdjust="spacingAndGlyphs">8</text>
</g>
<text class="ti" x="607.3" y="296.0" textLength="166.7" lengthAdjust="spacingAndGlyphs">C2C absolute distances (mm)</text>
<text class="ty" transform="translate(544.0 235.5) rotate(-90)" textLength="162.5" lengthAdjust="spacingAndGlyphs">Count (number of points)</text>
<text class="hd" x="527.6" y="28.7">Gauss:</text>
<text class="hd" x="529.7" y="43.8" textLength="246.3" lengthAdjust="spacingAndGlyphs">mean = 0.717746 / std.dev. = 0.385422</text>
<rect x="526.5" y="289.6" width="21.9" height="16.4" fill="#fff" stroke="#222" stroke-width="1.1"/>
<text class="lt lc" x="533.1" y="302.3" text-anchor="middle" textLength="9.0" lengthAdjust="spacingAndGlyphs">C</text>
<g fill="#000">
<rect x="9" y="9" width="777.2" height="5"/>
<rect x="9" y="305.6" width="777.2" height="5.1"/>
<rect x="9" y="9" width="5.9" height="301.7"/>
<rect x="781.7" y="9" width="4.5" height="301.7"/>
<rect x="267.6" y="9" width="3.2" height="301"/>
<rect x="524" y="9" width="3" height="301"/>
</g>
</svg></body></html>
